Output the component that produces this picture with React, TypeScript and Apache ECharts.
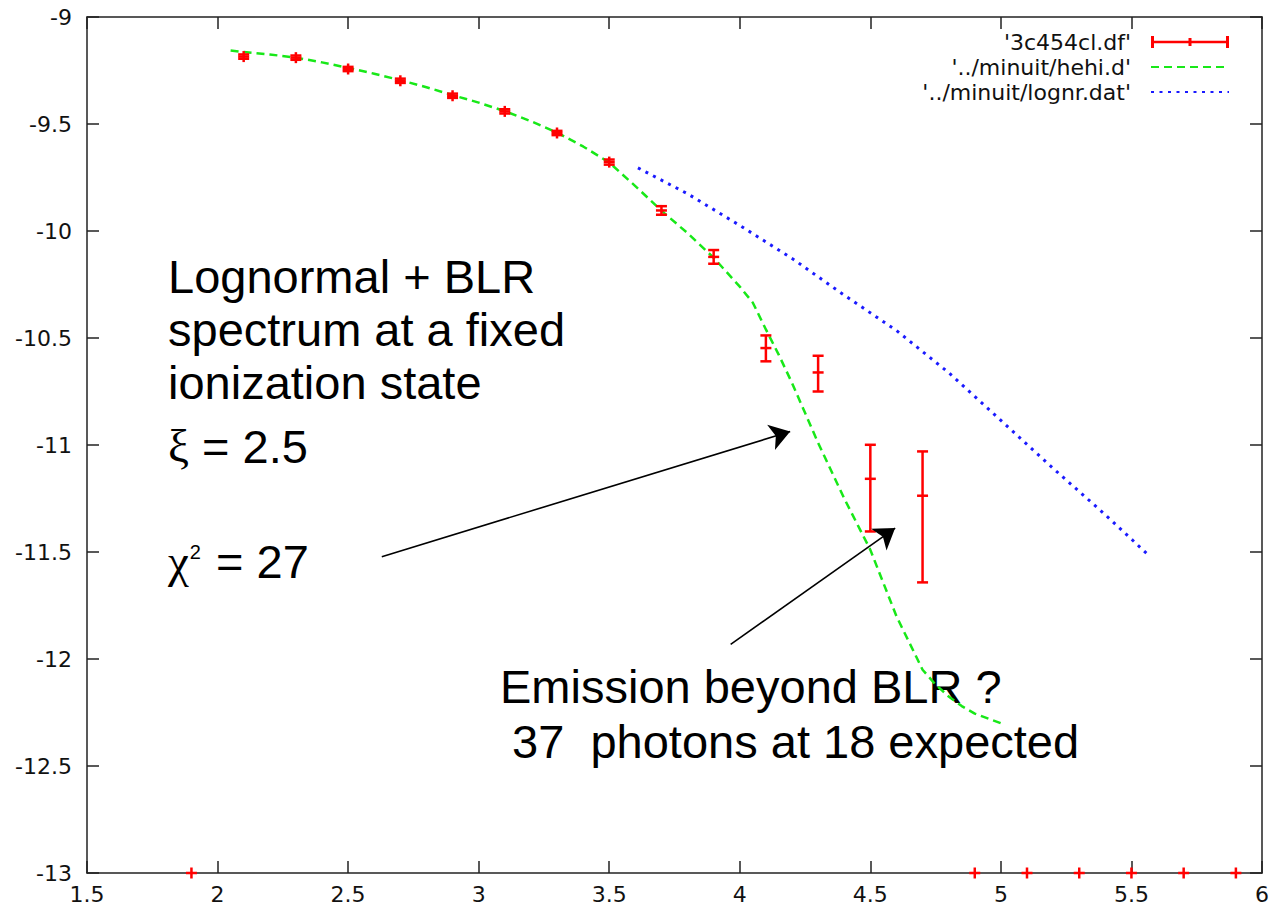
import React, { useEffect, useRef } from 'react';
import * as echarts from 'echarts';

// measured data points (with asymmetric errors)
const pointX = [1.9, 2.1, 2.3, 2.5, 2.7, 2.9, 3.1, 3.3, 3.5, 3.7, 3.9, 4.1, 4.3, 4.5, 4.7, 4.9, 5.1, 5.3, 5.5, 5.7, 5.9];
const pointY = [-13, -9.185, -9.19, -9.243, -9.298, -9.368, -9.441, -9.542, -9.678, -9.904, -10.121, -10.547, -10.661, -11.158, -11.237, -13, -13, -13, -13, -13, -13];
const errDown = [0, 0.01, 0.01, 0.01, 0.01, 0.01, 0.01, 0.01, 0.012, 0.02, 0.032, 0.062, 0.089, 0.246, 0.405, 0, 0, 0, 0, 0, 0];
const errUp = [0, 0.01, 0.01, 0.01, 0.01, 0.01, 0.01, 0.01, 0.012, 0.02, 0.032, 0.059, 0.078, 0.159, 0.207, 0, 0, 0, 0, 0, 0];

// model curve ../minuit/hehi.d
const hehiX = [2.05, 2.1, 2.2, 2.3, 2.4, 2.5, 2.6, 2.7, 2.8, 2.9, 3.0, 3.1, 3.2, 3.3, 3.4, 3.5, 3.6, 3.7, 3.8, 3.9, 4.0, 4.05, 4.1, 4.15, 4.2, 4.3, 4.4, 4.5, 4.6, 4.7, 4.75, 4.8, 4.85, 4.9, 5.0];
const hehiY = [-9.157, -9.163, -9.175, -9.19, -9.212, -9.238, -9.265, -9.295, -9.328, -9.365, -9.4, -9.44, -9.487, -9.54, -9.605, -9.68, -9.79, -9.905, -10.01, -10.125, -10.26, -10.335, -10.46, -10.58, -10.71, -10.99, -11.25, -11.49, -11.8, -12.05, -12.12, -12.175, -12.22, -12.255, -12.3];

// model curve ../minuit/lognr.dat
const lognrX = [3.61, 3.8, 4.0, 4.2, 4.4, 4.6, 4.8, 5.0, 5.2, 5.4, 5.57];
const lognrY = [-9.705, -9.826, -9.974, -10.128, -10.3, -10.465, -10.662, -10.885, -11.109, -11.326, -11.52];

const seriesNames = ["'3c454cl.df'", "'../minuit/hehi.d'", "'../minuit/lognr.dat'"];

// annotation arrows (data coordinates)
const arrow1From = [2.629, -11.522];
const arrow1To = [4.193, -10.937];
const arrow2From = [3.965, -11.932];
const arrow2To = [4.595, -11.388];

const annotLines = ['Lognormal + BLR', 'spectrum at a fixed', 'ionization state'];

export default function App() {
  const ref = useRef<HTMLDivElement>(null);
  useEffect(() => {
    if (!ref.current) return;
    const chart = echarts.init(ref.current, null, { renderer: 'svg' });
    const axisFont = 'DejaVu Sans';
    const sans = 'Liberation Sans';
    const serif = 'Liberation Serif';
    const axisLine = { show: true, lineStyle: { color: '#222', width: 1.5 } };
    const tick = { show: true, inside: true, length: 12, lineStyle: { color: '#222', width: 1.5 } };
    const hidden = { color: 'rgba(0,0,0,0)', borderColor: 'rgba(0,0,0,0)', borderWidth: 0 };

    const errData = pointX.map((x, i) => [x, pointY[i], errDown[i], errUp[i]]);

    const annotText = (text: string, x: number, baseline: number, extra: any = {}) => ({
      type: 'text',
      x,
      y: baseline - 16,
      silent: true,
      style: {
        text,
        fontFamily: sans,
        fontSize: 47,
        fill: '#000',
        verticalAlign: 'middle',
        align: 'left',
        ...extra,
      },
    });

    const option: any = {
      animation: false,
      backgroundColor: '#fff',
      grid: { left: 87, right: 9, top: 17, bottom: 40, show: false },
      xAxis: [
        {
          type: 'value', min: 1.5, max: 6, interval: 0.5, position: 'bottom',
          axisLine: { ...axisLine, onZero: false }, axisTick: tick, splitLine: { show: false },
          axisLabel: { color: '#111', fontFamily: axisFont, fontSize: 22, margin: 10 },
        },
        {
          type: 'value', min: 1.5, max: 6, interval: 0.5, position: 'top',
          axisLine: { ...axisLine, onZero: false }, axisTick: tick, splitLine: { show: false },
          axisLabel: { show: false },
        },
      ],
      yAxis: [
        {
          type: 'value', min: -13, max: -9, interval: 0.5, position: 'left',
          axisLine: { ...axisLine, onZero: false }, axisTick: tick, splitLine: { show: false },
          axisLabel: { color: '#111', fontFamily: axisFont, fontSize: 22, margin: 15 },
        },
        {
          type: 'value', min: -13, max: -9, interval: 0.5, position: 'right',
          axisLine: { ...axisLine, onZero: false }, axisTick: tick, splitLine: { show: false },
          axisLabel: { show: false },
        },
      ],
      legend: {
        orient: 'vertical',
        align: 'right',
        right: 37,
        top: 26,
        itemWidth: 78,
        itemHeight: 12,
        itemGap: 3,
        selectedMode: false,
        textStyle: { fontFamily: axisFont, fontSize: 22, lineHeight: 22, color: '#111', padding: [0, 15, 0, 0] },
        data: [
          { name: seriesNames[0], icon: 'path://M0,0h3v12h-3z M0,4.75h78v2.5h-78z M37.5,2h3v8h-3z M75,0h3v12h-3z' },
          { name: seriesNames[1], itemStyle: hidden },
          { name: seriesNames[2], itemStyle: hidden },
        ],
      },
      series: [
        {
          name: seriesNames[1],
          type: 'line',
          data: hehiX.map((x, i) => [x, hehiY[i]]),
          showSymbol: false,
          symbol: 'none',
          smooth: false,
          lineStyle: { color: '#18e818', width: 2.5, type: [8, 5] },
          itemStyle: { color: '#18e818' },
          z: 2,
        },
        {
          name: seriesNames[2],
          type: 'line',
          data: lognrX.map((x, i) => [x, lognrY[i]]),
          showSymbol: false,
          symbol: 'none',
          smooth: false,
          lineStyle: { color: '#1a1aff', width: 3, type: [3, 5.5] },
          itemStyle: { color: '#1a1aff' },
          z: 2,
        },
        {
          name: seriesNames[0],
          type: 'custom',
          clip: false,
          itemStyle: { color: '#ff0000' },
          data: errData,
          z: 3,
          renderItem: (params: any, api: any) => {
            const x = api.value(0);
            const y = api.value(1);
            const lo = api.value(2);
            const hi = api.value(3);
            const c = api.coord([x, y]);
            const top = api.coord([x, y + hi]);
            const bot = api.coord([x, y - lo]);
            const w = 5.5;
            const style = { stroke: '#ff0000', lineWidth: 2.5, fill: 'none' };
            const y1 = Math.min(top[1], c[1] - w);
            const y2 = Math.max(bot[1], c[1] + w);
            const children: any[] = [
              { type: 'line', shape: { x1: c[0], y1, x2: c[0], y2 }, style },
              { type: 'line', shape: { x1: c[0] - w, y1: c[1], x2: c[0] + w, y2: c[1] }, style },
            ];
            if (hi > 0) children.push({ type: 'line', shape: { x1: c[0] - w, y1: top[1], x2: c[0] + w, y2: top[1] }, style });
            if (lo > 0) children.push({ type: 'line', shape: { x1: c[0] - w, y1: bot[1], x2: c[0] + w, y2: bot[1] }, style });
            return { type: 'group', children };
          },
        },
        {
          name: 'arrows',
          type: 'line',
          data: [],
          silent: true,
          markLine: {
            silent: true,
            symbol: ['none', 'arrow'],
            symbolSize: 20,
            label: { show: false },
            lineStyle: { color: '#000', width: 1.6, type: 'solid' },
            itemStyle: { color: '#000' },
            emphasis: { disabled: true },
            data: [
              [{ coord: arrow1From }, { coord: arrow1To }],
              [{ coord: arrow2From }, { coord: arrow2To }],
            ],
          },
          z: 4,
        },
      ],
      graphic: {
        elements: [
          annotText(annotLines[0], 168, 292),
          annotText(annotLines[1], 168, 345),
          annotText(annotLines[2], 168, 398),
          annotText('{g|ξ} = 2.5', 168, 462, {
            rich: { g: { fontFamily: serif, fontSize: 47 } },
          }),
          annotText('{g|χ}{sup|2} = 27', 168, 577, {
            rich: {
              g: { fontFamily: serif, fontSize: 47 },
              sup: { fontFamily: sans, fontSize: 20, verticalAlign: 'top', padding: [4, 2, 0, 1] },
            },
          }),
          annotText('Emission beyond BLR ?', 500, 702),
          annotText(' 37  photons at 18 expected', 499, 757),
        ],
      },
    };
    chart.setOption(option);
    return () => chart.dispose();
  }, []);
  return (
    <div
      ref={ref}
      style={{ position: 'absolute', left: 0, top: 0, width: 1272, height: 913, background: '#fff' }}
    />
  );
}
